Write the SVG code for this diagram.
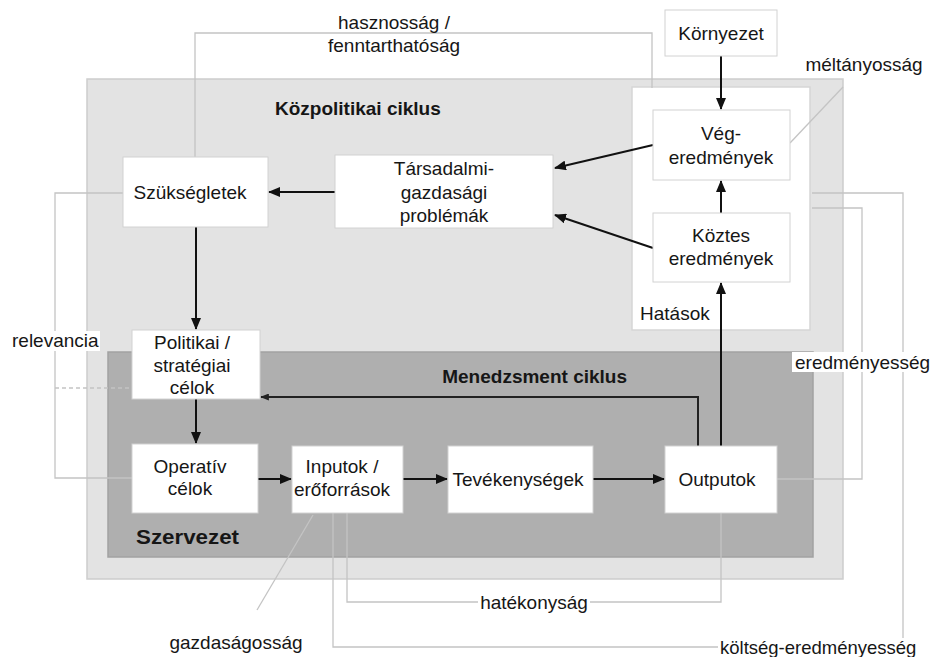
<svg xmlns="http://www.w3.org/2000/svg" width="932" height="657" viewBox="0 0 932 657">
  <defs>
    <marker id="arrow" viewBox="0 0 12 10" refX="11" refY="5" markerWidth="12" markerHeight="10" markerUnits="userSpaceOnUse" orient="auto">
      <path d="M0,0 L12,5 L0,10 Z" fill="#111"/>
    </marker>
    <marker id="arrow-small" viewBox="0 0 10 8" refX="9" refY="4" markerWidth="9" markerHeight="7" markerUnits="userSpaceOnUse" orient="auto">
      <path d="M0,0 L10,4 L0,8 Z" fill="#222"/>
    </marker>
    <style>
      text { font-family: "Liberation Sans", Arial, sans-serif; font-size: 19px; fill: #161616; }
      .c { text-anchor: middle; }
      .b { font-weight: bold; }
      .node { fill: #ffffff; stroke: #d2d2d2; stroke-width: 1; }
      .flow { fill: none; stroke: #111; stroke-width: 2; }
      .thin { fill: none; stroke: #c4c4c4; stroke-width: 1.3; }
      .lblbg { fill: #ffffff; }
    </style>
  </defs>

  <rect width="932" height="657" fill="#ffffff"/>

  <!-- policy cycle frame -->
  <g id="policy-cycle">
    <rect x="87" y="79" width="756" height="500" fill="#e3e3e3" stroke="#cdcdcd" stroke-width="1.5"/>
    <text class="b" x="275" y="115">Közpolitikai ciklus</text>
  </g>

  <!-- management cycle frame -->
  <g id="management-cycle">
    <rect x="108" y="352" width="705" height="205" fill="#afafaf" stroke="#a2a2a2" stroke-width="1.5"/>
    <text class="b" x="627" y="383" text-anchor="end">Menedzsment ciklus</text>
    <text class="b" x="136" y="544" style="font-size:21px" textLength="103" lengthAdjust="spacingAndGlyphs">Szervezet</text>
  </g>

  <!-- impacts area -->
  <g id="impacts">
    <rect x="632" y="87" width="178" height="243" fill="#ffffff" stroke="#d6d6d6" stroke-width="1.5"/>
    <text x="640" y="320">Hatások</text>
  </g>

  <!-- thin evaluation links -->
  <g id="evaluation-links">
    <path class="thin" d="M195,157 V33 H652 V88"/>
    <path class="thin" d="M790,143 L843,87"/>
    <path class="thin" d="M123,193 H55 V478 H132"/>
    <path class="thin" d="M55,388 H132" stroke-dasharray="4,3"/>
    <path class="thin" d="M777,479 H862 V208 H812"/>
    <path class="thin" d="M333,513 V647 H903 V193 H812"/>
    <path class="thin" d="M721,513 V602 H347 V513"/>
    <path class="thin" d="M313,515 L257,610"/>
  </g>

  <!-- main flow connectors -->
  <g id="connectors">
    <path class="flow" d="M721,56 V109" marker-end="url(#arrow)"/>
    <path class="flow" d="M721,213 V181" marker-end="url(#arrow)"/>
    <path class="flow" d="M653,145 L555,168" marker-end="url(#arrow)"/>
    <path class="flow" d="M653,248 L555,215" marker-end="url(#arrow)"/>
    <path class="flow" d="M335,192 H269" marker-end="url(#arrow)"/>
    <path class="flow" d="M196,227 V329" marker-end="url(#arrow)"/>
    <path class="flow" d="M196,399 V443" marker-end="url(#arrow)"/>
    <path class="flow" d="M258,479 H291" marker-end="url(#arrow)"/>
    <path class="flow" d="M403,479 H447" marker-end="url(#arrow)"/>
    <path class="flow" d="M593,479 H664" marker-end="url(#arrow)"/>
    <path class="flow" d="M721,446 V283" marker-end="url(#arrow)"/>
    <path fill="none" stroke="#222" stroke-width="2" d="M698,446 V397 H261" marker-end="url(#arrow-small)"/>
  </g>

  <!-- nodes -->
  <g id="kornyezet">
    <rect class="node" x="665" y="10" width="112" height="46"/>
    <text class="c" x="721" y="40">Környezet</text>
  </g>
  <g id="veg-eredmenyek">
    <rect class="node" x="653" y="110" width="137" height="70"/>
    <text class="c" x="721" y="140">Vég-</text>
    <text class="c" x="721" y="164">eredmények</text>
  </g>
  <g id="koztes-eredmenyek">
    <rect class="node" x="653" y="213" width="137" height="69"/>
    <text class="c" x="721" y="242">Köztes</text>
    <text class="c" x="721" y="265">eredmények</text>
  </g>
  <g id="tarsadalmi-problemak">
    <rect class="node" x="335" y="155" width="218" height="73"/>
    <text class="c" x="444" y="175">Társadalmi-</text>
    <text class="c" x="444" y="199">gazdasági</text>
    <text class="c" x="444" y="222">problémák</text>
  </g>
  <g id="szuksegletek">
    <rect class="node" x="123" y="157" width="145" height="70"/>
    <text class="c" x="190" y="199">Szükségletek</text>
  </g>
  <g id="politikai-celok">
    <rect class="node" x="132" y="330" width="128" height="69"/>
    <text class="c" x="192" y="349">Politikai /</text>
    <text class="c" x="192" y="372">stratégiai</text>
    <text class="c" x="192" y="394">célok</text>
  </g>
  <g id="operativ-celok">
    <rect class="node" x="132" y="444" width="126" height="69"/>
    <text class="c" x="190" y="473">Operatív</text>
    <text class="c" x="190" y="495">célok</text>
  </g>
  <g id="inputok">
    <rect class="node" x="292" y="446" width="111" height="67"/>
    <text class="c" x="342" y="473">Inputok /</text>
    <text class="c" x="342" y="496">erőforrások</text>
  </g>
  <g id="tevekenysegek">
    <rect class="node" x="448" y="446" width="145" height="67"/>
    <text class="c" x="518" y="486">Tevékenységek</text>
  </g>
  <g id="outputok">
    <rect class="node" x="665" y="446" width="112" height="67"/>
    <text class="c" x="717" y="486">Outputok</text>
  </g>

  <!-- criterion labels -->
  <g id="labels">
    <text class="c" x="394" y="29">hasznosság /</text>
    <text class="c" x="394" y="52">fenntarthatóság</text>
    <text class="c" x="864" y="71">méltányosság</text>
    <rect class="lblbg" x="10" y="331" width="90" height="20"/>
    <text x="12" y="347">relevancia</text>
    <rect class="lblbg" x="792" y="352" width="140" height="20"/>
    <text x="795" y="369">eredményesség</text>
    <rect class="lblbg" x="478" y="592" width="112" height="20"/>
    <text class="c" x="534" y="609">hatékonyság</text>
    <text class="c" x="236" y="649">gazdaságosság</text>
    <rect class="lblbg" x="718" y="638" width="214" height="19"/>
    <text x="720" y="654" style="font-size:18.5px">költség-eredményesség</text>
  </g>
</svg>
